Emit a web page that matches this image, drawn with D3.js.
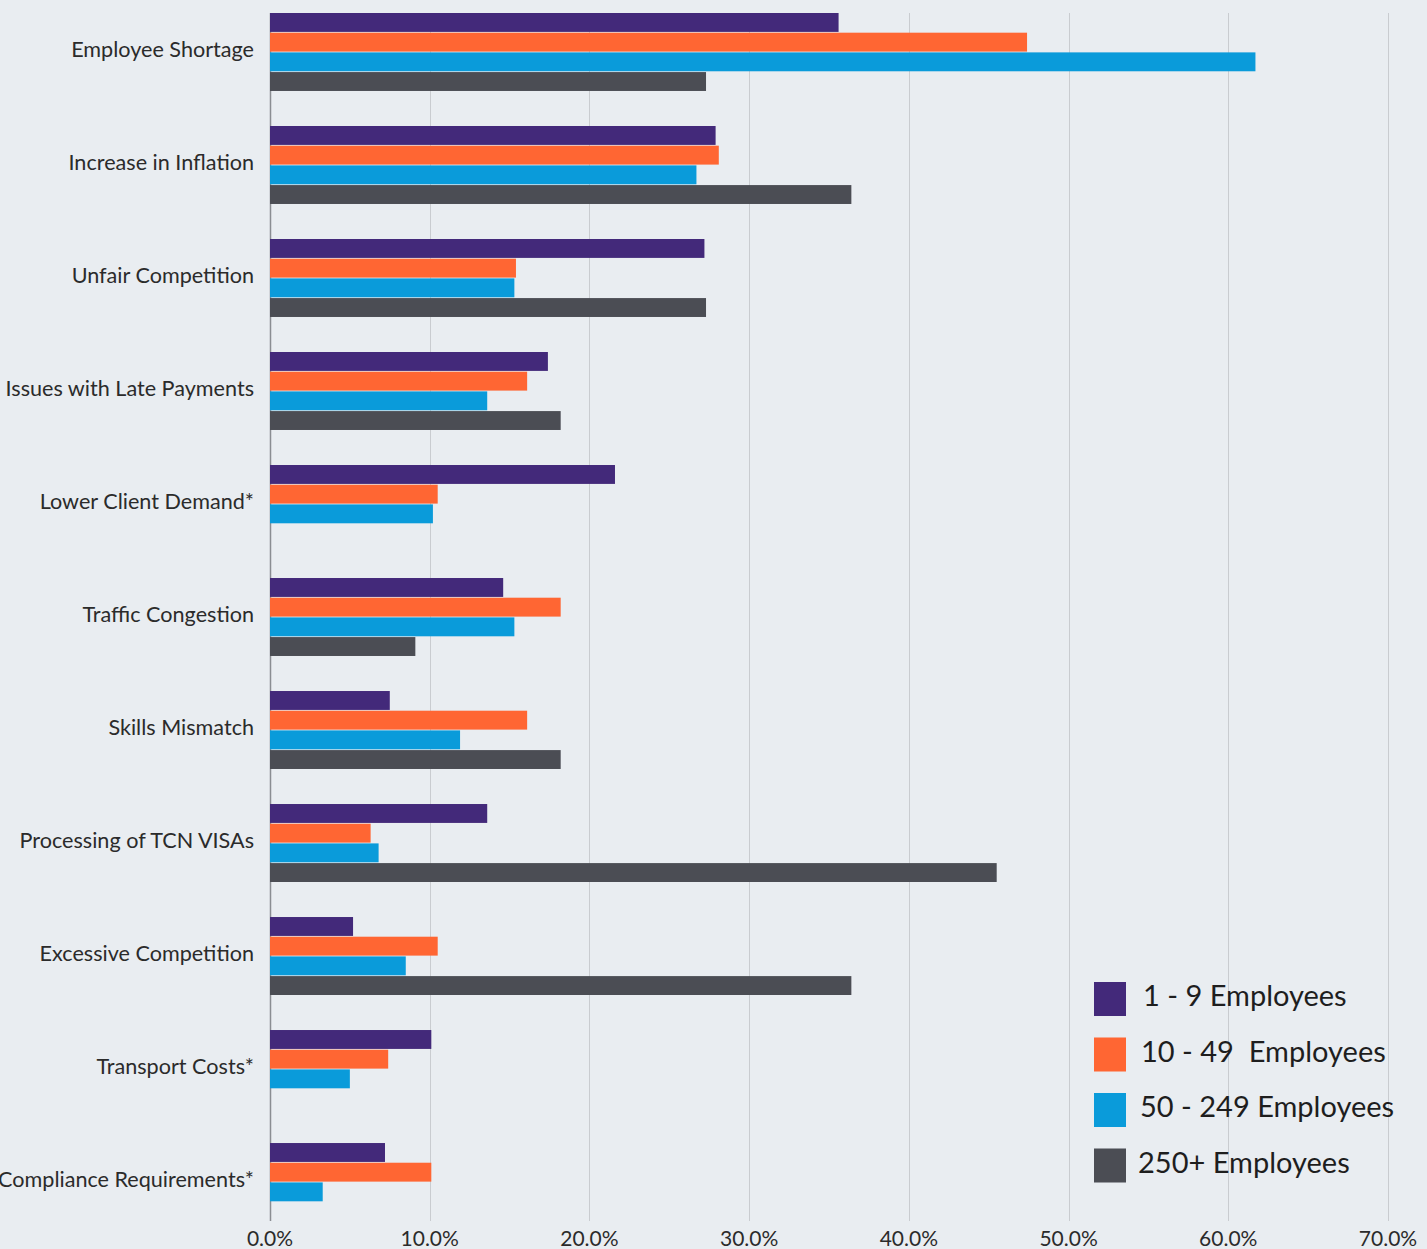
<!DOCTYPE html>
<meta charset="utf-8">
<style>
body {
  margin: 0;
  background: #e9edf1;
}
svg {
  display: block;
  font-family: Lato, "Open Sans", sans-serif;
}
.grid line {
  stroke: #c9ccd0;
  stroke-width: 1px;
  shape-rendering: crispEdges;
}
.cat text {
  font-size: 21.6px;
  fill: #2b2b2b;
}
.tick-label {
  font-size: 21px;
  fill: #2b2b2b;
}
.legend text {
  font-size: 29px;
  fill: #1e1e1e;
  white-space: pre;
}
</style>
<body>
<svg width="1427" height="1249"></svg>
<script src="https://d3js.org/d3.v7.min.js"></script>
<script>
var categories = ["Employee Shortage", "Increase in Inflation", "Unfair Competition",
  "Issues with Late Payments", "Lower Client Demand*", "Traffic Congestion",
  "Skills Mismatch", "Processing of TCN VISAs", "Excessive Competition",
  "Transport Costs*", "Compliance Requirements*"];

var seriesNames = ["1 - 9 Employees", "10 - 49  Employees", "50 - 249 Employees", "250+ Employees"];

// percentages, null = not asked for that group
var micro  = [35.6, 27.9, 27.2, 17.4, 21.6, 14.6, 7.5, 13.6, 5.2, 10.1, 7.2];
var small  = [47.4, 28.1, 15.4, 16.1, 10.5, 18.2, 16.1, 6.3, 10.5, 7.4, 10.1];
var medium = [61.7, 26.7, 15.3, 13.6, 10.2, 15.3, 11.9, 6.8, 8.5, 5.0, 3.3];
var large  = [27.3, 36.4, 27.3, 18.2, null, 9.1, 18.2, 45.5, 36.4, null, null];

var ticks = [0, 10, 20, 30, 40, 50, 60, 70];

var colors = ["#43297a", "#ff6633", "#0a9bda", "#4b4d54"];

var svg = d3.select("svg");

var x = d3.scaleLinear()
    .domain([0, 70])
    .range([270, 1388]);

var y = d3.scaleBand()
    .domain(categories)
    .range([13, 1221])
    .paddingInner(0.31)
    .paddingOuter(0);

var ySub = d3.scaleBand()
    .domain(d3.range(seriesNames.length))
    .range([0, y.bandwidth()])
    .paddingInner(0.04);

var allSeries = [micro, small, medium, large];

// vertical grid lines
svg.append("g")
    .attr("class", "grid")
    .selectAll("line")
    .data(ticks.slice(1))
  .enter().append("line")
    .attr("x1", function(d) { return Math.round(x(d)) + 0.5; })
    .attr("x2", function(d) { return Math.round(x(d)) + 0.5; })
    .attr("y1", 13)
    .attr("y2", 1221);

// zero line
svg.append("line")
    .attr("x1", x(0) + 0.5).attr("x2", x(0) + 0.5)
    .attr("y1", 13).attr("y2", 1221)
    .attr("stroke", "#8a8d92")
    .attr("stroke-width", 1.5);

svg.append("g")
    .selectAll("text")
    .data(ticks)
  .enter().append("text")
    .attr("class", "tick-label")
    .attr("x", function(d) { return x(d); })
    .attr("y", 1246)
    .attr("text-anchor", "middle")
    .text(function(d) { return d.toFixed(1) + "%"; });

// bars
var groups = svg.append("g")
    .selectAll("g")
    .data(categories)
  .enter().append("g")
    .attr("transform", function(d) { return "translate(0," + y(d) + ")"; });

groups.selectAll("rect")
    .data(function(d, i) {
      return allSeries.map(function(s, k) { return {k: k, v: s[i]}; })
        .filter(function(e) { return e.v != null; });
    })
  .enter().append("rect")
    .attr("x", x(0))
    .attr("y", function(d) { return ySub(d.k); })
    .attr("height", ySub.bandwidth())
    .attr("width", function(d) { return x(d.v) - x(0); })
    .attr("fill", function(d) { return colors[d.k]; });

// category labels
svg.append("g")
    .attr("class", "cat")
    .selectAll("text")
    .data(categories)
  .enter().append("text")
    .attr("x", 254)
    .attr("y", function(d) { return y(d) + y.bandwidth() / 2; })
    .attr("text-anchor", "end")
    .attr("dominant-baseline", "middle")
    .text(function(d) { return d; });

// legend
var legend = svg.append("g")
    .attr("class", "legend")
    .attr("transform", "translate(1094,982)");

var item = legend.selectAll("g")
    .data(seriesNames)
  .enter().append("g")
    .attr("transform", function(d, i) { return "translate(0," + (i * 55.5) + ")"; });

item.append("rect")
    .attr("width", 32)
    .attr("height", 34)
    .attr("fill", function(d, i) { return colors[i]; });

item.append("text")
    .attr("x", function(d, i) { return [49, 47, 46, 44][i]; })
    .attr("y", 17)
    .attr("dominant-baseline", "middle")
    .text(function(d) { return d; });
</script>
</body>
</html>
